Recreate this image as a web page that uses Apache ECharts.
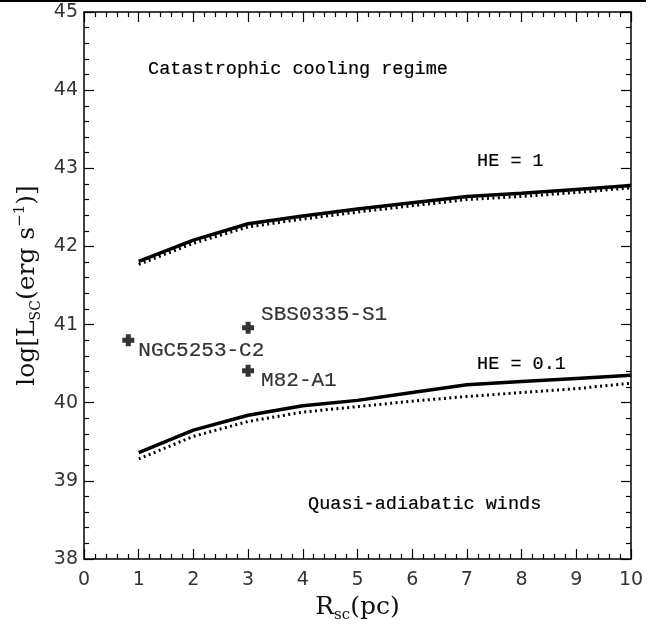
<!DOCTYPE html>
<html lang="en">
<head>
  <meta charset="UTF-8">
  <title>Lsc vs Rsc</title>
  <style>
    * { margin: 0; padding: 0; }
    body { background: #fff; }
    #chart { width: 654px; height: 624px; }
  </style>
</head>
<body>
  <div id="chart"></div>
  <script src="https://cdn.jsdelivr.net/npm/echarts@6/dist/echarts.min.js"></script>
  <script>
    // Rsc in pc
    var rsc = [1, 2, 3, 4, 5, 6, 7, 8, 9, 10]
    // log Lsc, HE = 1
    var he1Solid = [41.81, 42.08, 42.29, 42.39, 42.48, 42.56, 42.64, 42.68, 42.73, 42.78]
    var he1Dot = [41.77, 42.04, 42.25, 42.35, 42.44, 42.52, 42.60, 42.64, 42.69, 42.75]
    // log Lsc, HE = 0.1
    var he01Solid = [39.36, 39.65, 39.84, 39.96, 40.03, 40.13, 40.23, 40.27, 40.31, 40.35]
    var he01Dot = [39.28, 39.57, 39.76, 39.88, 39.95, 40.02, 40.08, 40.13, 40.18, 40.25]
    // observed clusters
    var clusterNames = ['NGC5253-C2', 'SBS0335-S1', 'M82-A1']
    var clusterR = [0.81, 3.0, 3.0]
    var clusterL = [40.80, 40.96, 40.41]

    var labelOffset = {
      'NGC5253-C2': [4, 10],
      'SBS0335-S1': [7, -13],
      'M82-A1': [7, 10]
    }

    function pairs(xs, ys) {
      return xs.map(function (x, i) { return [x, ys[i]] })
    }

    var black = '#000'
    var serifMono = '"Liberation Mono", monospace'
    var serif = '"DejaVu Serif", serif'

    function lineSeries(ys, dotted) {
      return {
        type: 'line',
        data: pairs(rsc, ys),
        showSymbol: false,
        symbol: 'none',
        xAxisIndex: 0,
        yAxisIndex: 0,
        lineStyle: {
          color: black,
          width: dotted ? 3 : 3.5,
          type: dotted ? [2, 3.4] : 'solid',
          cap: 'butt'
        },
        z: dotted ? 2 : 3
      }
    }

    function axisCommon(showLabel) {
      return {
        type: 'value',
        interval: 1,
        axisLine: { show: true, onZero: false, lineStyle: { color: black, width: 1.5 } },
        axisTick: { show: true, inside: true, length: 10, lineStyle: { color: black, width: 1.2 } },
        minorTick: { show: true, splitNumber: 5, length: 5, lineStyle: { color: black, width: 1.2 } },
        splitLine: { show: false },
        axisLabel: {
          show: showLabel,
          fontFamily: '"DejaVu Sans", sans-serif',
          fontSize: 19,
          color: '#333'
        }
      }
    }

    var xBottom = axisCommon(true)
    xBottom.min = 0
    xBottom.max = 10
    xBottom.position = 'bottom'
    xBottom.axisLabel.margin = 12
    xBottom.name = '{a|R}{b|sc}{a|(pc)}'
    xBottom.nameLocation = 'middle'
    xBottom.nameGap = 30
    xBottom.nameTextStyle = {
      rich: {
        a: { fontFamily: serif, fontSize: 25, color: '#111', lineHeight: 30 },
        b: { fontFamily: serif, fontSize: 15, color: '#111', lineHeight: 14, verticalAlign: 'bottom' }
      }
    }

    var xTop = axisCommon(false)
    xTop.min = 0
    xTop.max = 10
    xTop.position = 'top'

    var yLeft = axisCommon(true)
    yLeft.min = 38
    yLeft.max = 45
    yLeft.position = 'left'
    yLeft.axisLabel.margin = 6
    yLeft.name = '{a|log[L}{b|SC}{a|(erg s}{c|\u22121}{a|)]}'
    yLeft.nameLocation = 'middle'
    yLeft.nameRotate = 90
    yLeft.nameGap = 41
    yLeft.nameTextStyle = {
      rich: {
        a: { fontFamily: serif, fontSize: 25, color: '#111', lineHeight: 30 },
        b: { fontFamily: serif, fontSize: 14, color: '#111', lineHeight: 14, verticalAlign: 'bottom' },
        c: { fontFamily: serif, fontSize: 15, color: '#111', lineHeight: 14, verticalAlign: 'top' }
      }
    }

    var yRight = axisCommon(false)
    yRight.min = 38
    yRight.max = 45
    yRight.position = 'right'

    var clusterData = clusterNames.map(function (n, i) {
      return {
        name: n,
        value: [clusterR[i], clusterL[i]],
        label: { offset: labelOffset[n] }
      }
    })

    // thin outline so the mono text reads a bit heavier, like the plot font
    var textStroke = { stroke: '#000', lineWidth: 0.2 }

    function note(text, left, top) {
      return {
        type: 'text',
        left: left,
        top: top,
        style: {
          text: text,
          font: '18.5px ' + serifMono,
          fill: '#000',
          stroke: textStroke.stroke,
          lineWidth: textStroke.lineWidth
        }
      }
    }

    var option = {
      animation: false,
      backgroundColor: '#fff',
      grid: { left: 84, top: 12, width: 547, height: 547, containLabel: false, outerBoundsMode: 'none' },
      xAxis: [xBottom, xTop],
      yAxis: [yLeft, yRight],
      series: [
        lineSeries(he1Dot, true),
        lineSeries(he1Solid, false),
        lineSeries(he01Dot, true),
        lineSeries(he01Solid, false),
        {
          type: 'scatter',
          data: clusterData,
          symbol: 'path://M3.5,0H8.5V3.5H12V8.5H8.5V12H3.5V8.5H0V3.5H3.5Z',
          symbolSize: 12,
          itemStyle: { color: black },
          label: {
            show: true,
            formatter: '{b}',
            position: 'right',
            distance: 0,
            fontFamily: serifMono,
            fontSize: 21,
            color: '#000',
            textBorderColor: '#000',
            textBorderWidth: 0.2
          },
          z: 5
        }
      ],
      graphic: [
        { type: 'line', shape: { x1: 0, y1: 1, x2: 646, y2: 1 }, style: { stroke: black, lineWidth: 2 } },
        note('Catastrophic cooling regime', 148, 60),
        note('HE = 1', 477, 152),
        note('HE = 0.1', 477, 355),
        note('Quasi-adiabatic winds', 308, 495)
      ]
    }

    var myChart = echarts.init(document.getElementById('chart'))
    myChart.setOption(option)
  </script>
</body>
</html>
